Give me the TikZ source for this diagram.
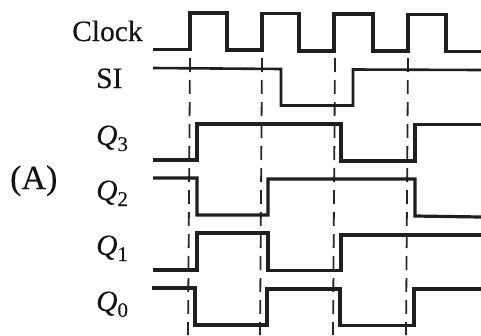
\documentclass[tikz,border=0pt]{standalone}
\usepackage{fontspec}
\setmainfont{Liberation Serif}[RawFeature={embolden=0.2}]
\tikzset{
  wave/.style={line width=3.2pt,line join=miter,draw=black!88},
  wavethin/.style={line width=2.6pt,line join=miter,draw=black!88},
  guide/.style={line width=1.8pt,draw=black!85,dash pattern=on 14pt off 8pt},
  lab/.style={anchor=base west,inner sep=0pt,font=\fontsize{29.5}{29.5}\selectfont,text=black!92},
  bigl/.style={anchor=base west,inner sep=0pt,font=\fontsize{34}{34}\selectfont,text=black!92}
}
\newcommand{\qsig}[1]{\textit{Q}\raisebox{-6pt}{\fontsize{21}{21}\selectfont #1}}
\begin{document}
\begin{tikzpicture}[x=1pt,y=-1pt]
\useasboundingbox (0,0) rectangle (481,335);
% labels
\node[lab] (clk) at (72,41) {Clock};
\node[lab] (si) at (96,88) {SI};
\node[lab] (q3) at (96,145) {\qsig{3}};
\node[lab] (q2) at (96,200) {\qsig{2}};
\node[lab] (q1) at (96,255) {\qsig{1}};
\node[lab] (q0) at (96,311) {\qsig{0}};
\node[bigl] (a) at (10,189) {(A)};
% guides
\draw[guide] (190,58) -- (188,335);
\draw[guide] (262,58) -- (260,335);
\draw[guide] (335,58) -- (333,335);
\draw[guide] (408,58) -- (406,335);
% Clock
\draw[wave] (153,49.5) -- (190,49.5) -- (190,13) -- (227,13) -- (227,50) -- (262,50) -- (262,13.5) -- (299,13.5) -- (299,51) -- (334,51) -- (334,14) -- (373,14) -- (373,51) -- (408,51) -- (408,14.5) -- (446,14.5) -- (446,51.5) -- (481,51.5);
% SI
\draw[wavethin] (153,68) -- (281,69) -- (281,105.5) -- (353,105.5) -- (353,69.5) -- (481,70);
% Q3
\draw[wave] (153,160) -- (197,160) -- (197,124) -- (341,124) -- (341,161) -- (415,161) -- (415,124.5) -- (481,124.5);
% Q2
\draw[wave] (153,178) -- (197,178) -- (197,215) -- (268,215) -- (268,179) -- (415,179) -- (415,216) -- (481,217);
% Q1
\draw[wave] (153,270) -- (197,270) -- (197,233) -- (268,233) -- (268,270.5) -- (341,270.5) -- (341,235) -- (481,235);
% Q0
\draw[wave] (152,288) -- (195,288) -- (195,325) -- (267,325) -- (267,289) -- (340,289) -- (340,325.5) -- (414,325.5) -- (414,289) -- (481,289);
\end{tikzpicture}
\end{document}
